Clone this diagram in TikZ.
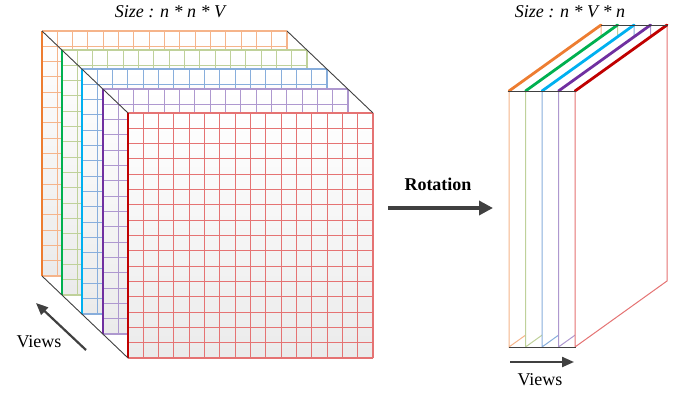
\documentclass[tikz,border=0pt]{standalone}
\usepackage{fontspec}
\setmainfont{Liberation Serif}
\usetikzlibrary{arrows.meta}
\definecolor{cOr}{HTML}{ED7D31}
\definecolor{cGr}{HTML}{00B050}
\definecolor{cBl}{HTML}{00B0F0}
\definecolor{cPu}{HTML}{7030A0}
\definecolor{cRd}{HTML}{C00000}
\definecolor{pOr}{HTML}{F5B48A}
\definecolor{pGr}{HTML}{BFD19A}
\definecolor{pBl}{HTML}{88AEDC}
\definecolor{pPu}{HTML}{AE98CF}
\definecolor{pRd}{HTML}{E57373}
\definecolor{arr}{HTML}{404040}
\tikzset{
  gridline/.style={line width=1.1pt},
  thickedge/.style={line width=2.8pt},
  blackedge/.style={line width=0.9pt, black!75},
  layerfill/.style={top color=white, bottom color=black!8},
  bigarrow/.style={draw=arr, line width=3.4pt, -{Triangle[length=14pt,width=14pt]}},
  viewarrow/.style={draw=arr, line width=2.2pt, -{Triangle[length=12pt,width=10pt]}},
  lbl/.style={inner sep=0pt, font=\fontsize{18}{21}\selectfont},
}
\begin{document}
\begin{tikzpicture}[x=1pt,y=-1pt]
\useasboundingbox (0,0) rectangle (683,394);
% ---------- left cube ----------
\def\side{245}
\foreach \x/\y/\pc/\dc in {42/31/pOr/cOr, 62/50/pGr/cGr, 82/69/pBl/cBl, 103/89/pPu/cPu, 128/113/pRd/cRd}{
  \fill[layerfill] (\x,\y) rectangle ++(\side,\side);
  \foreach \i in {0,...,16}{
    \draw[gridline,\pc] (\x+\i*15.3125,\y) -- ++(0,\side);
    \draw[gridline,\pc] (\x,\y+\i*15.3125) -- ++(\side,0);
  }
  \draw[thickedge,\dc] (\x,\y) -- ++(0,\side);
}
\coordinate (tlA) at (42,31);   \coordinate (tlB) at (128,113);
\coordinate (trA) at (287,31);  \coordinate (trB) at (373,113);
\coordinate (blA) at (42,276);  \coordinate (blB) at (128,358);
\draw[blackedge] (tlA) -- (tlB);
\draw[blackedge] (trA) -- (trB);
\draw[blackedge] (blA) -- (blB);
\node[lbl] (t1) at (170,12) {\itshape Size : n * n * V};
\coordinate (va) at (86,350);
\coordinate (vb) at (36,303);
\draw[viewarrow] (va) -- (vb);
\node[lbl] (v1) at (39,342) {Views};
% ---------- rotation arrow ----------
\node[lbl] (rot) at (438,184) {\bfseries Rotation};
\coordinate (ra) at (388,208);
\coordinate (rb) at (493,208);
\draw[bigarrow] (ra) -- (rb);
% ---------- right slab ----------
\foreach \f/\pc/\dc in {509/pOr/cOr, 525.5/pGr/cGr, 542/pBl/cBl, 558.5/pPu/cPu, 575/pRd/cRd}{
  \filldraw[fill=white, draw=\pc, line width=1pt] (\f,91) -- (\f+92,25) -- (\f+92,281) -- (\f,347) -- cycle;
  \draw[line width=2.8pt,\dc,line cap=round] (\f,91) -- (\f+92,25);
}
\coordinate (ta) at (601,25); \coordinate (tb) at (668,25);
\coordinate (fa) at (508,91); \coordinate (fb) at (576,91);
\coordinate (ba) at (509,347); \coordinate (bb) at (576,347);
\draw[blackedge] (ta) -- (tb);
\draw[blackedge] (fa) -- (fb);
\draw[blackedge] (ba) -- (bb);
\node[lbl] (t2) at (570,12) {\itshape Size : n * V * n};
\coordinate (wa) at (510,362);
\coordinate (wb) at (574,362);
\draw[viewarrow] (wa) -- (wb);
\node[lbl] (v2) at (540,380) {Views};
\end{tikzpicture}
\end{document}
